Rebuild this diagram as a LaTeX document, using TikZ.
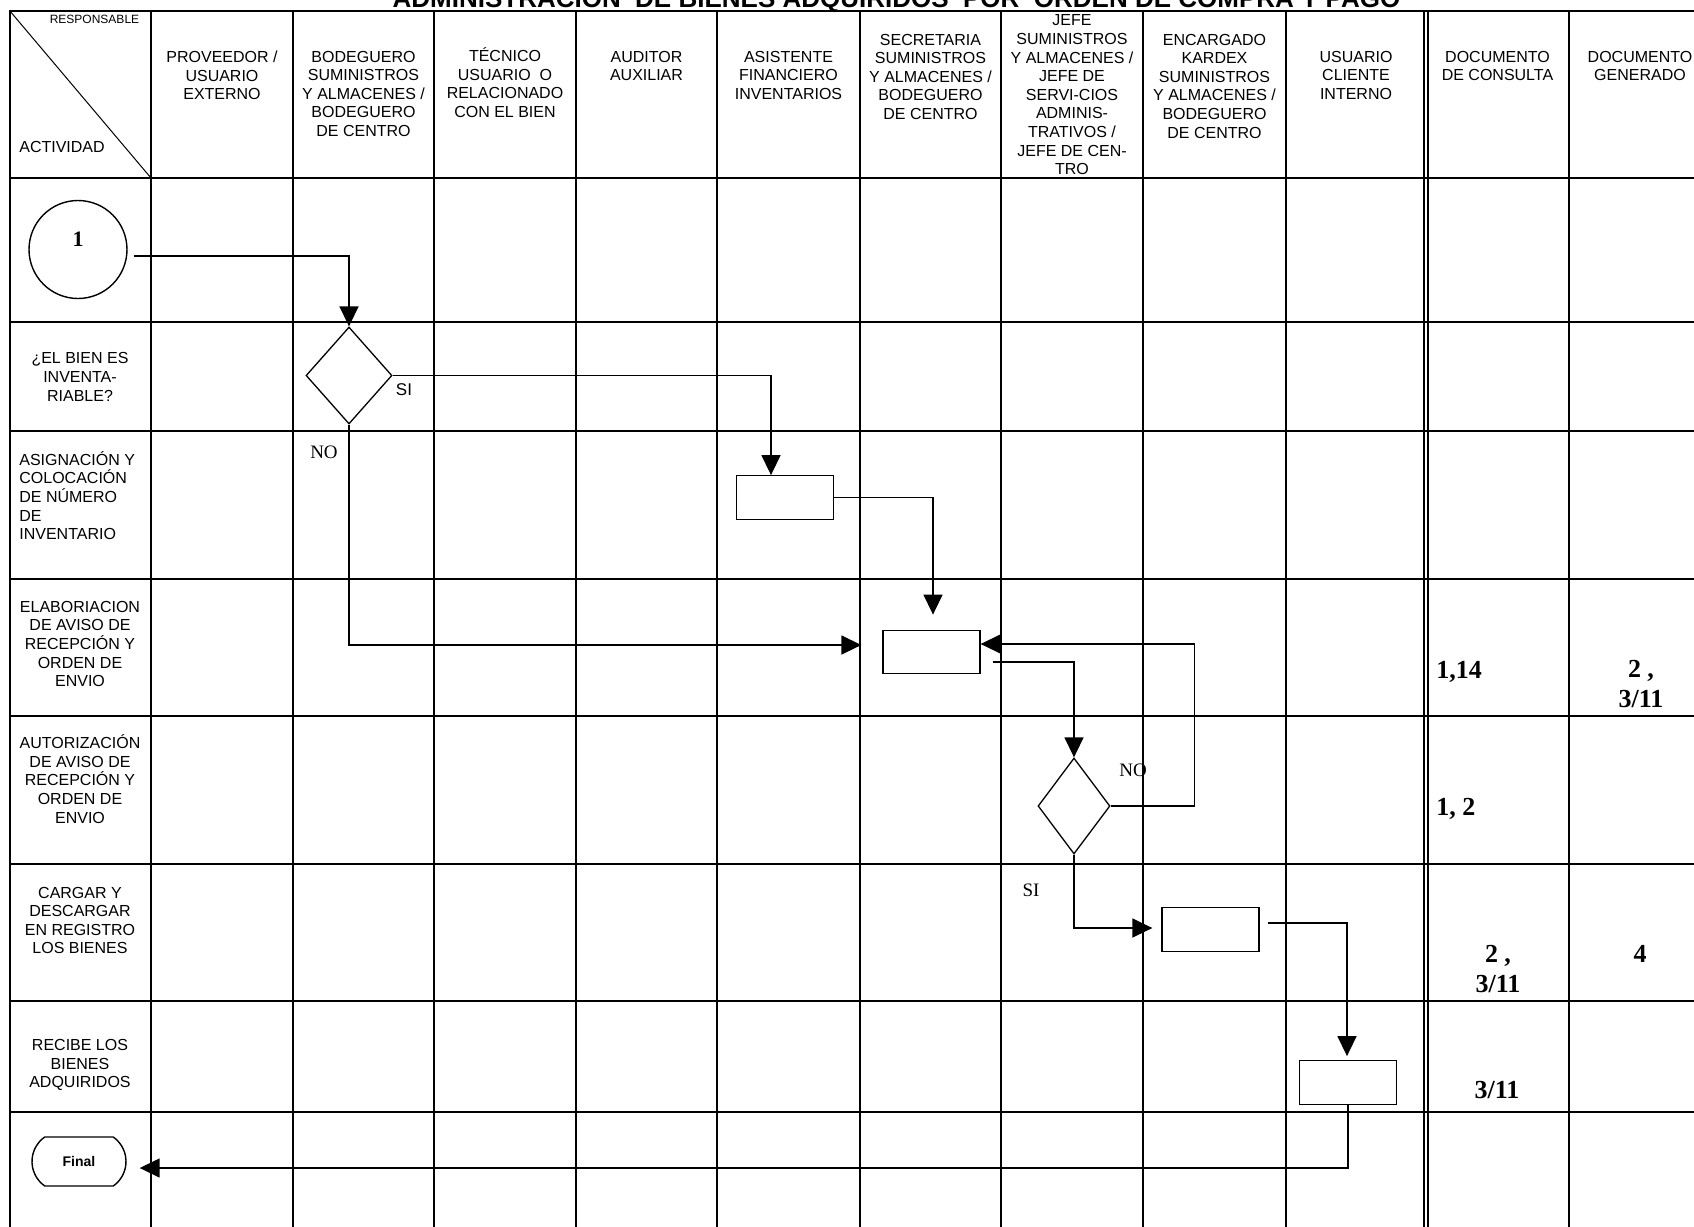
\documentclass[tikz,border=0pt]{standalone}
\usepackage{fontspec}
\setmainfont{Liberation Sans}
\newfontfamily\tnr{Liberation Serif}
\usetikzlibrary{shapes,arrows.meta}

\begin{document}
\begin{tikzpicture}[x=0.5pt, y=-0.5pt,
			lane/.style={line width=1pt},
			head/.style={font=\fontsize{8}{9.3}\selectfont, align=center, anchor=north, inner sep=0pt},
			act/.style={font=\fontsize{8}{9.3}\selectfont, align=center, inner sep=0pt},
			proc/.style={
					rectangle,
					draw,
					line width=0.65pt,
					minimum width=48.5pt,
					minimum height=21.75pt,
					inner sep=0pt
				},
			decision/.style={diamond, draw, line width=0.65pt, inner sep=0pt},
			lbl/.style={font=\tnr\fontsize{9.5}{11}\selectfont, inner sep=0pt},
			doc/.style={font=\tnr\bfseries\fontsize{13}{15}\selectfont, align=center, inner sep=0pt},
			line/.style={draw, line width=0.75pt, -{Triangle[length=10pt,width=9.5pt]}}
		]
		\useasboundingbox (0,0) rectangle (1694,1227);
		\clip (0,0) rectangle (1694,1227);
		% Title
		\node [font=\bfseries\fontsize{13}{15}\selectfont, anchor=base, inner sep=0pt] (title) at (896.5,7) {ADMINISTRACIÓN\ \ DE BIENES ADQUIRIDOS\ \ POR\ \ ORDEN DE COMPRA Y PAGO};
		% Draw grid
		\draw [lane] (9.5,10.5) rectangle (1720,1240);
		\foreach \x in {151,293,434,576,717,860,1001,1143,1286,1569}
			\draw [lane] (\x,10.5) -- (\x,1240);
		\foreach \y in {178,322,431,579,716,864,1001,1112}
			\draw [lane] (9.5,\y) -- (1720,\y);
		\draw [line width=0.6pt] (1424,10.5) -- (1424,1240) (1428,10.5) -- (1428,1240);
		\draw [line width=0.5pt] (9.5,10.5) -- (151,178);
		% Headers
		\node [font=\fontsize{6}{7}\selectfont, inner sep=0pt] (resp) at (94.5,19.5) {RESPONSABLE};
		\node [act] (actividad) at (62,147) {ACTIVIDAD};
		\node [head] (proveedor) at (222,50.5) {PROVEEDOR /\\USUARIO\\EXTERNO};
		\node [head] (bodeguero) at (363.5,50.5) {BODEGUERO\\SUMINISTROS\\Y ALMACENES /\\BODEGUERO\\DE CENTRO};
		\node [head] (tecnico) at (505,47.5) {TÉCNICO\\USUARIO\ \ O\\RELACIONADO\\CON EL BIEN};
		\node [head] (auditor) at (646.5,50.5) {AUDITOR\\AUXILIAR};
		\node [head] (asistente) at (788.5,50.5) {ASISTENTE\\FINANCIERO\\INVENTARIOS};
		\node [head] (secretaria) at (930.5,33.5) {SECRETARIA\\SUMINISTROS\\Y ALMACENES /\\BODEGUERO\\DE CENTRO};
		\node [head] (jefe) at (1072,14.5) {JEFE\\SUMINISTROS\\Y ALMACENES /\\JEFE DE\\SERVI-CIOS\\ADMINIS-\\TRATIVOS /\\JEFE DE CEN-\\TRO};
		\node [head] (encargado) at (1214.5,33.5) {ENCARGADO\\KARDEX\\SUMINISTROS\\Y ALMACENES /\\BODEGUERO\\DE CENTRO};
		\node [head] (usuario) at (1356,50.5) {USUARIO\\CLIENTE\\INTERNO};
		\node [head] (consulta) at (1497.5,50.5) {DOCUMENTO\\DE CONSULTA};
		\node [head] (generado) at (1640,50.5) {DOCUMENTO\\GENERADO};
		% Activities
		\node [act] (a1) at (80,377) {¿EL BIEN ES\\INVENTA-\\RIABLE?};
		\node [act, align=left, anchor=north west] (a2) at (19,451) {ASIGNACIÓN Y\\COLOCACIÓN\\DE NÚMERO\\DE\\INVENTARIO};
		\node [act] (a3) at (80,644) {ELABORIACION\\DE AVISO DE\\RECEPCIÓN Y\\ORDEN DE\\ENVIO};
		\node [act] (a4) at (80,779) {AUTORIZACIÓN\\DE AVISO DE\\RECEPCIÓN Y\\ORDEN DE\\ENVIO};
		\node [act] (a5) at (80,920.5) {CARGAR Y\\DESCARGAR\\EN REGISTRO\\LOS BIENES};
		\node [act] (a6) at (80,1065) {RECIBE LOS\\BIENES\\ADQUIRIDOS};
		% Place nodes
		\node [circle, draw, line width=0.7pt, minimum size=49pt, inner sep=0pt,
			label={[font=\tnr\bfseries\fontsize{11}{13}\selectfont, yshift=5pt]center:1}] (start) at (78,249.5) {};
		\node [decision, minimum width=43pt, minimum height=48.5pt] (isinv) at (349,375.5) {};
		\node [proc] (assign) at (785,497.5) {};
		\node [proc] (notice) at (931.5,652) {};
		\node [decision, minimum width=36pt, minimum height=48pt] (authorize) at (1074,806) {};
		\node [proc] (record) at (1210.5,929.5) {};
		\node [proc] (receive) at (1348,1082.5) {};
		\node [rounded rectangle, rounded rectangle arc length=110, draw, line width=0.7pt,
			minimum width=47pt, minimum height=24.5pt, inner sep=0pt,
			font=\bfseries\fontsize{7}{8}\selectfont] (final) at (79,1161.5) {Final};
		% Labels
		\node [font=\fontsize{8.5}{10}\selectfont, inner sep=0pt] (si1) at (404,390) {SI};
		\node [lbl] (no1) at (324,452) {NO};
		\node [lbl] (no2) at (1133,770) {NO};
		\node [lbl] (si2) at (1031,890) {SI};
		% Documents
		\node [doc, anchor=base west] (d1) at (1436,678) {1,14};
		\node [doc, anchor=north] (d2) at (1641,660) {2 ,\\3/11};
		\node [doc, anchor=base west] (d3) at (1436,815) {1, 2};
		\node [doc, anchor=north] (d4) at (1498,945) {2 ,\\3/11};
		\node [doc, anchor=base] (d5) at (1640,962) {4};
		\node [doc, anchor=base] (d6) at (1497,1098) {3/11};
		% Draw edges
		\path [line] ([shift={(6,6.5)}]start.east) -| (isinv.north);
		\path [line] (isinv.east) -| ([shift={(-14,0)}]assign.north);
		\path [line] (isinv.south) |- ([shift={(-21,-7)}]notice.west);
		\path [line] (assign.east) -| ([shift={(1.5,-15)}]notice.north);
		\path [line] ([shift={(12,10)}]notice.east) -| (authorize.north);
		\path [line] (authorize.east) -- ++(84,0) |- ([shift={(0,-8)}]notice.east);
		\path [line] (authorize.south) |- ([shift={(-9,-1.5)}]record.west);
		\path [line] ([shift={(8,-6.5)}]record.east) -| ([shift={(-1,-4)}]receive.north);
		\path [line] (receive.south) |- ([shift={(13,6.5)}]final.east);
	\end{tikzpicture}
\end{document}
